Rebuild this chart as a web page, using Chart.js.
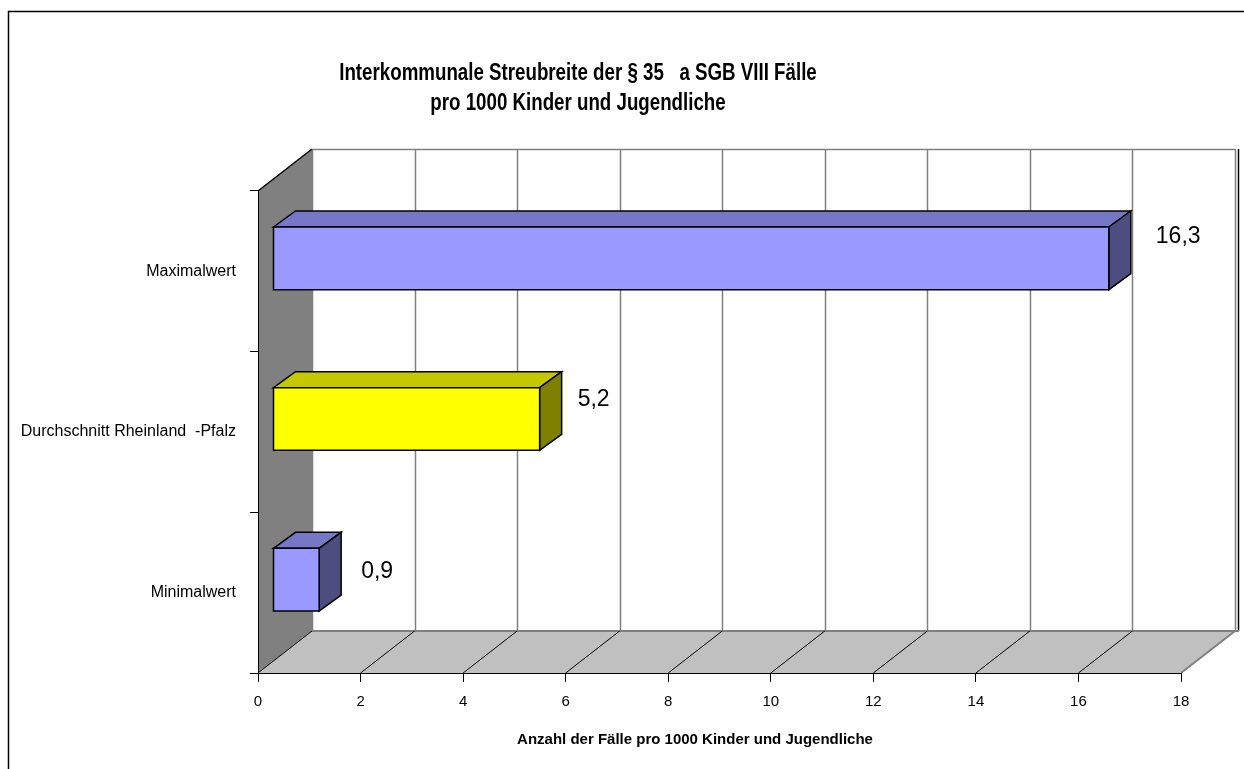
<!DOCTYPE html>
<html>
<head>
<meta charset="utf-8">
<script src="https://cdn.jsdelivr.net/npm/chart.js@4/dist/chart.umd.min.js"></script>
<style>
  html, body { margin: 0; padding: 0; background: #fff; }
  canvas { display: block; }
</style>
</head>
<body>
<canvas id="chart" width="1244" height="769"></canvas>
<script>
// ---- data ----
const categories = ['Maximalwert', 'Durchschnitt Rheinland  -Pfalz', 'Minimalwert'];
const values = [16.3, 5.2, 0.9];
const barColors = ['#9999ff', '#ffff00', '#9999ff'];
const xMin = 0;
const xMax = 18;
const xStep = 2;
const titleLines = ['Interkommunale Streubreite der § 35   a SGB VIII Fälle', 'pro 1000 Kinder und Jugendliche'];
const xTitle = 'Anzahl der Fälle pro 1000 Kinder und Jugendliche';

// ---- look ----
const FONT = "'Liberation Sans', Arial, Helvetica, sans-serif";
const WALL = { dx: 54, dy: -42 };      // depth of the 3D walls/floor
const BAR_FRONT = { dx: 15, dy: -13 }; // front plane of the bars inside the depth
const BAR_DEPTH = { dx: 22, dy: -16 }; // thickness of each bar
const labelNudge = [ { dx: 25, dy: -22 }, { dx: 16, dy: -19 }, { dx: 20, dy: -8 } ];

function shade(hex, f) {
  const n = parseInt(hex.slice(1), 16);
  const r = Math.round(((n >> 16) & 255) * f);
  const g = Math.round(((n >> 8) & 255) * f);
  const b = Math.round((n & 255) * f);
  return `rgb(${r},${g},${b})`;
}

function line(ctx, x1, y1, x2, y2, color, w) {
  ctx.beginPath();
  ctx.strokeStyle = color;
  ctx.lineWidth = w;
  ctx.moveTo(x1, y1);
  ctx.lineTo(x2, y2);
  ctx.stroke();
}

function poly(ctx, pts, fill, stroke, w) {
  ctx.beginPath();
  ctx.moveTo(pts[0][0], pts[0][1]);
  for (let i = 1; i < pts.length; i++) ctx.lineTo(pts[i][0], pts[i][1]);
  ctx.closePath();
  if (fill) { ctx.fillStyle = fill; ctx.fill(); }
  if (stroke) { ctx.strokeStyle = stroke; ctx.lineWidth = w; ctx.lineJoin = 'miter'; ctx.stroke(); }
}

function text(ctx, s, x, y, size, bold, align, sx) {
  ctx.save();
  ctx.translate(x, y);
  ctx.scale(sx || 1, 1);
  ctx.font = `${bold ? 'bold ' : ''}${size}px ${FONT}`;
  ctx.fillStyle = '#000';
  ctx.textAlign = align;
  ctx.textBaseline = 'middle';
  ctx.fillText(s, 0, 0);
  ctx.restore();
}

const box3d = {
  id: 'box3d',
  beforeDraw(chart) {
    const { ctx, chartArea: a, scales: { x } } = chart;
    const L = a.left, R = a.right, T = a.top, B = a.bottom;
    const bx = WALL.dx, by = WALL.dy;
    ctx.save();

    // outer frame
    ctx.beginPath();
    ctx.strokeStyle = '#000';
    ctx.lineWidth = 1.5;
    ctx.moveTo(8.5, 769);
    ctx.lineTo(8.5, 11.5);
    ctx.lineTo(1244, 11.5);
    ctx.stroke();

    // back wall
    poly(ctx, [[L + bx, T + by], [R + bx, T + by], [R + bx, B + by], [L + bx, B + by]], '#ffffff');
    x.ticks.forEach(t => {
      const px = Math.round(x.getPixelForValue(t.value) + bx) + 0.5;
      line(ctx, px, T + by, px, B + by, '#808080', 1.5);
    });
    line(ctx, L + bx, T + by + 0.5, R + bx, T + by + 0.5, '#808080', 1.5);
    line(ctx, R + bx + 3.5, T + by, R + bx + 3.5, B + by, '#000', 1.5);

    // side wall
    poly(ctx, [[L, T], [L + bx, T + by], [L + bx, B + by], [L, B]], '#808080');
    line(ctx, L, T, L + bx, T + by, '#000', 1.5);

    // floor
    poly(ctx, [[L, B], [L + bx, B + by], [R + bx, B + by], [R, B]], '#c0c0c0');
    line(ctx, L + bx, B + by, R + bx + 4, B + by, '#808080', 2);
    x.ticks.forEach((t, i) => {
      const px = x.getPixelForValue(t.value);
      const last = i === x.ticks.length - 1;
      line(ctx, px, B, px + bx, B + by, last ? '#808080' : '#000', last ? 2 : 1);
    });

    // titles
    text(ctx, titleLines[0], 578, 73, 24, true, 'center', 0.78);
    text(ctx, titleLines[1], 578, 103, 24, true, 'center', 0.78);
    text(ctx, xTitle, 695, 740, 15, true, 'center', 1);
    ctx.restore();
  },
  beforeDatasetDraw(chart, args) {
    const { ctx } = chart;
    const meta = args.meta;
    const ds = chart.data.datasets[args.index];
    ctx.save();
    meta.data.forEach((el, i) => {
      const { x, y, base, height } = el.getProps(['x', 'y', 'base', 'height'], true);
      const x0 = base + BAR_FRONT.dx, x1 = x + BAR_FRONT.dx;
      const top = y - height / 2 + BAR_FRONT.dy, bot = y + height / 2 + BAR_FRONT.dy;
      const c = ds.backgroundColor[i];
      const dx = BAR_DEPTH.dx, dy = BAR_DEPTH.dy;
      poly(ctx, [[x0, top], [x0 + dx, top + dy], [x1 + dx, top + dy], [x1, top]], shade(c, 0.78), '#000', 1.5);
      poly(ctx, [[x1, top], [x1 + dx, top + dy], [x1 + dx, bot + dy], [x1, bot]], shade(c, 0.5), '#000', 1.5);
      poly(ctx, [[x0, top], [x1, top], [x1, bot], [x0, bot]], c, '#000', 1.5);

      const v = ds.data[i];
      const label = v.toFixed(1).replace('.', ',');
      const nudge = labelNudge[i];
      text(ctx, label, x1 + dx + nudge.dx, (top + bot) / 2 + nudge.dy, 23, false, 'left', 1);
    });
    ctx.restore();
    return false;
  }
};

new Chart(document.getElementById('chart'), {
  type: 'bar',
  data: {
    labels: categories,
    datasets: [{
      data: values,
      backgroundColor: barColors,
      categoryPercentage: 1,
      barPercentage: 0.39
    }]
  },
  options: {
    indexAxis: 'y',
    responsive: false,
    animation: false,
    devicePixelRatio: 1,
    layout: { padding: { top: 191, right: 63, bottom: 0, left: 0 } },
    plugins: {
      legend: { display: false },
      tooltip: { enabled: false },
      title: { display: false }
    },
    scales: {
      x: {
        type: 'linear',
        min: xMin,
        max: xMax,
        ticks: { stepSize: xStep, color: '#000', font: { family: FONT, size: 15 }, padding: 11, maxRotation: 0 },
        grid: { drawOnChartArea: false, tickLength: 9, color: '#000' },
        border: { color: '#000' },
        afterFit(scale) { scale.height = 96; }
      },
      y: {
        ticks: { color: '#000', font: { family: FONT, size: 16 }, padding: 14 },
        grid: { drawOnChartArea: false, tickLength: 8, color: '#000', offset: true },
        border: { color: '#000' },
        afterFit(scale) { scale.width = 258; }
      }
    }
  },
  plugins: [box3d]
});
</script>
</body>
</html>
